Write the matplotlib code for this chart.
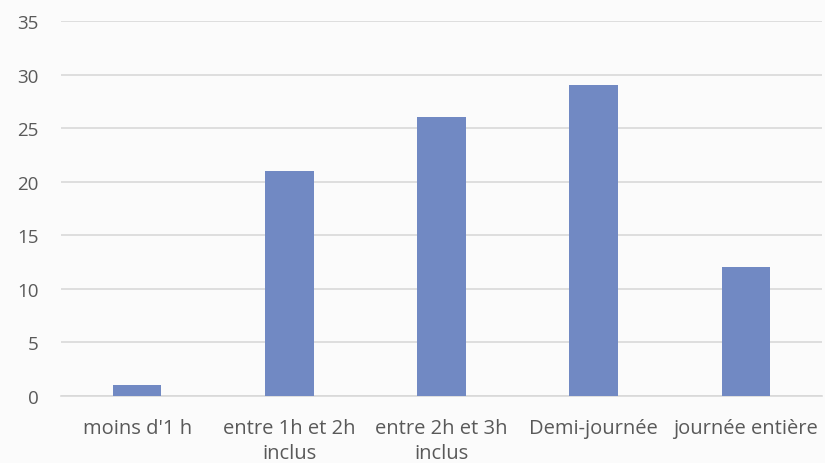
import matplotlib
matplotlib.use("Agg")
import matplotlib.pyplot as plt

categories = ["moins d'1 h", "entre 1h et 2h\ninclus", "entre 2h et 3h\ninclus",
              "Demi-journée", "journée entière"]
values = [1, 21, 26, 29, 12]
yticks = [0, 5, 10, 15, 20, 25, 30, 35]

bar_color = "#7189c3"
text_color = "#595959"
grid_color = "#d9d9d9"

plt.rcParams["font.family"] = ["Open Sans", "DejaVu Sans"]

fig = plt.figure(figsize=(8.25, 4.64), dpi=100)
fig.patch.set_facecolor("#fbfbfb")
ax = fig.add_axes([61 / 825, 67 / 464, 761 / 825, 375 / 464])
ax.set_facecolor("none")

x = range(len(categories))
ax.bar(x, values, width=0.32, color=bar_color, zorder=3)

ax.set_xlim(-0.5, len(categories) - 0.5)
ax.set_ylim(0, 35)
ax.set_yticks(yticks)
ax.set_xticks(list(x))
ax.set_xticklabels(categories, linespacing=1.35)

ax.grid(axis="y", color=grid_color, linewidth=1.2, zorder=0)
for s in ["top", "right", "left"]:
    ax.spines[s].set_visible(False)
ax.spines["bottom"].set_color(grid_color)
ax.spines["bottom"].set_linewidth(1.2)

ax.tick_params(axis="both", length=0, colors=text_color)
ax.tick_params(axis="y", labelsize=13.5, pad=16)
ax.tick_params(axis="x", labelsize=14.5, pad=16)

fig.savefig("out.png", dpi=100, facecolor=fig.get_facecolor())
plt.close(fig)
